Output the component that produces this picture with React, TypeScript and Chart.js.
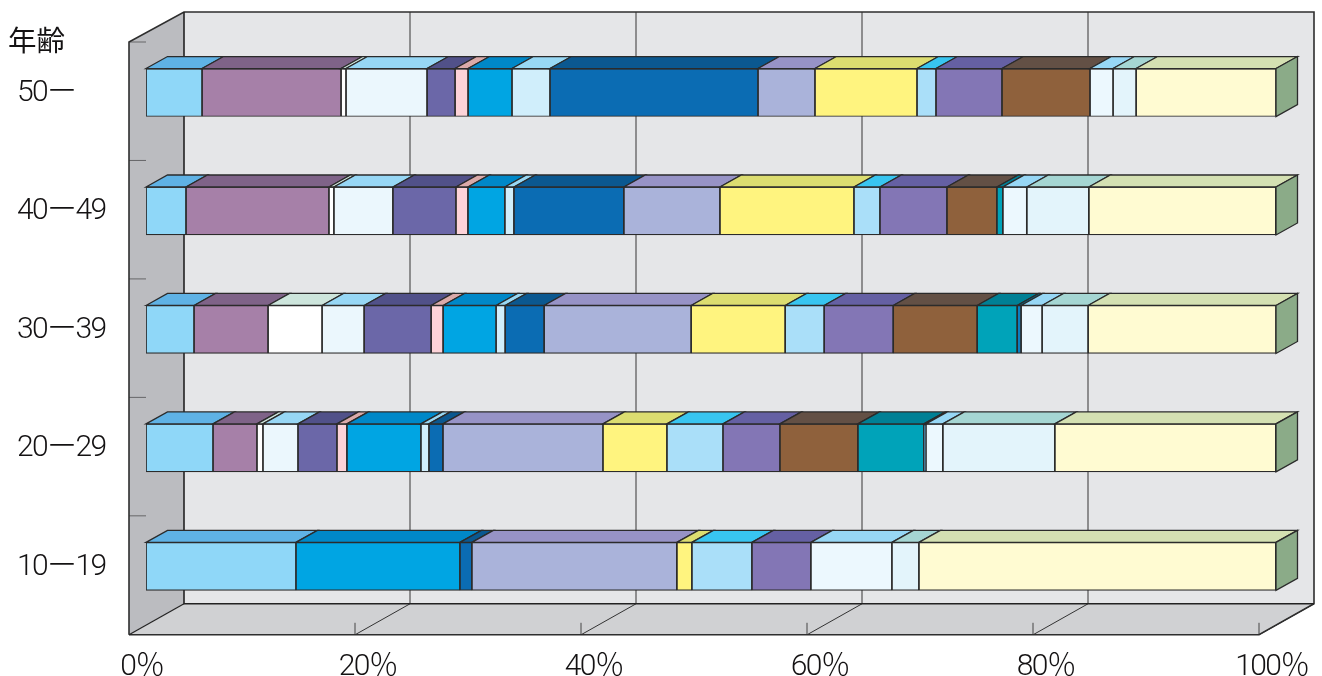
import React, { useEffect, useRef } from "react";
import { Chart, registerables } from "chart.js";

Chart.register(...registerables);

const categories = ["50ー", "40ー49", "30ー39", "20ー29", "10ー19"];
const xTicks = [0, 20, 40, 60, 80, 100];
const axisTitle = "年齢";

const s01 = [4.96, 3.54, 4.25, 5.93, 13.27];
const s02 = [12.3, 12.65, 6.55, 3.89, null];
const s03 = [0.44, 0.44, 4.78, 0.53, null];
const s04 = [7.17, 5.22, 3.72, 3.1, null];
const s05 = [2.48, 5.58, 5.93, 3.45, null];
const s06 = [1.15, 1.06, 1.06, 0.88, null];
const s07 = [3.89, 3.27, 4.69, 6.55, 14.51];
const s08 = [3.36, 0.8, 0.8, 0.71, null];
const s09 = [18.41, 9.73, 3.45, 1.24, 1.06];
const s10 = [5.04, 8.5, 13.01, 14.16, 18.14];
const s11 = [9.03, 11.86, 8.32, 5.66, 1.33];
const s12 = [1.68, 2.3, 3.45, 4.96, 5.31];
const s13 = [5.84, 5.93, 6.11, 5.04, 5.22];
const s14 = [7.79, 4.42, 7.43, 6.9, null];
const s15 = [null, 0.53, 3.54, 5.84, null];
const s16 = [null, null, 0.35, 0.18, null];
const s17 = [2.04, 2.12, 1.86, 1.5, 7.17];
const s18 = [2.04, 5.49, 4.07, 9.91, 2.39];
const s19 = [12.39, 16.55, 16.64, 19.56, 31.59];

const seriesValues = [s01, s02, s03, s04, s05, s06, s07, s08, s09, s10, s11, s12, s13, s14, s15, s16, s17, s18, s19];

const frontColors = [
  "#8fd7f8", "#a680a8", "#ffffff", "#ebf7fd", "#6b67a8", "#fdd3d8", "#00a5e3", "#d0eefb", "#0b6cb3", "#aab3da",
  "#fff47f", "#aadff9", "#8376b5", "#8f613c", "#00a3b9", "#0b7fc0", "#ecf8fe", "#e3f4fb", "#fffbd2",
];
const topColors = [
  "#5fb2e5", "#7f6388", "#cde5dc", "#97d7f5", "#515189", "#dbaaa9", "#0088c8", "#98d8f4", "#0b5890", "#9793c6",
  "#dcdd70", "#38c5f0", "#6560a3", "#635045", "#008095", "#006e90", "#97d7f5", "#a5d6d3", "#d4e0b2",
];
const sideColor = "#8bab88";
const lineColor = "#2b2b2b";
const textColor = "#141213";
const labelFont = 'Roboto, "Noto Sans CJK JP", sans-serif';

const depthPlugin = {
  id: "depth",
  beforeDraw(chart: any) {
    chart.ctx.letterSpacing = "-1.6px";
  },
  afterDraw(chart: any) {
    chart.ctx.letterSpacing = "0px";
  },
  beforeDatasetsDraw(chart: any) {
    const { ctx, scales } = chart;
    const x = scales.x;
    const y = scales.y;
    const band = (y.bottom - y.top) / categories.length;
    const frontX = x.left - 17;
    const backX = x.left + 38;
    const frontEndX = x.right - 17;
    const backEndX = x.right + 38;
    const frontTop = y.top + 8.7;
    const frontBottom = y.bottom + 9.2;
    const backTop = 12;
    const backBottom = frontBottom - 31;
    const line = (pts: number[][], color: string, w: number) => {
      ctx.beginPath();
      pts.forEach((p, i) => (i ? ctx.lineTo(p[0], p[1]) : ctx.moveTo(p[0], p[1])));
      ctx.strokeStyle = color;
      ctx.lineWidth = w;
      ctx.stroke();
    };
    const fill = (pts: number[][], color: string) => {
      ctx.beginPath();
      pts.forEach((p, i) => (i ? ctx.lineTo(p[0], p[1]) : ctx.moveTo(p[0], p[1])));
      ctx.closePath();
      ctx.fillStyle = color;
      ctx.fill();
    };
    ctx.save();
    fill([[backX, backTop], [backEndX, backTop], [backEndX, backBottom], [backX, backBottom]], "#e5e6e8");
    fill([[frontX, frontTop], [backX, backTop], [backX, backBottom], [frontX, frontBottom]], "#bbbcc0");
    fill([[frontX, frontBottom], [backX, backBottom], [backEndX, backBottom], [frontEndX, frontBottom]], "#d0d1d3");

    xTicks.forEach((t) => {
      const px = x.getPixelForValue(t);
      if (t > 0 && t < 100) line([[px + 38, backTop], [px + 38, backBottom]], "#6f6f71", 1.5);
      if (t > 0) {
        line([[px + 38, backBottom], [px - 17, frontBottom]], "#333333", 1);
        line([[px - 17, frontBottom - 12], [px - 17, frontBottom]], "#444444", 1);
      }
    });
    categories.forEach((_, i) => {
      const py = y.getPixelForValue(i) - band / 2 + 8.7;
      line([[frontX, py], [x.left, py]], "#666668", 1);
    });
    line([[frontX, frontBottom], [frontX, frontTop], [backX, backTop], [backEndX, backTop], [backEndX, backBottom], [frontEndX, frontBottom], [frontX, frontBottom]], "#2e2e2e", 1.6);
    line([[backX, backTop], [backX, backBottom], [backEndX, backBottom]], "#222222", 1.6);
    line([[backX, backBottom], [frontX, frontBottom]], "#222222", 1.2);
    ctx.restore();
  },
  afterDatasetsDraw(chart: any) {
    const { ctx, scales } = chart;
    const dx = 21.5;
    const dy = 12;
    ctx.save();
    ctx.lineWidth = 1.3;
    ctx.strokeStyle = lineColor;
    ctx.lineJoin = "miter";
    chart.data.datasets.forEach((ds: any, d: number) => {
      const meta = chart.getDatasetMeta(d);
      meta.data.forEach((bar: any, i: number) => {
        if (ds.data[i] == null) return;
        const h = bar.height;
        const top = bar.y - h / 2;
        const l = bar.base;
        const r = bar.x;
        ctx.beginPath();
        ctx.moveTo(l, top);
        ctx.lineTo(l + dx, top - dy);
        ctx.lineTo(r + dx, top - dy);
        ctx.lineTo(r, top);
        ctx.closePath();
        ctx.fillStyle = topColors[d];
        ctx.fill();
        ctx.stroke();
      });
    });
    categories.forEach((_, i) => {
      const cy = scales.y.getPixelForValue(i);
      const h = chart.getDatasetMeta(0).data[i].height;
      const r = scales.x.right;
      ctx.beginPath();
      ctx.moveTo(r, cy - h / 2);
      ctx.lineTo(r + dx, cy - h / 2 - dy);
      ctx.lineTo(r + dx, cy + h / 2 - dy);
      ctx.lineTo(r, cy + h / 2);
      ctx.closePath();
      ctx.fillStyle = sideColor;
      ctx.fill();
      ctx.stroke();
    });
    ctx.fillStyle = textColor;
    ctx.letterSpacing = "0px";
    ctx.font = '400 28.5px "Noto Sans CJK JP", sans-serif';
    ctx.textAlign = "left";
    ctx.textBaseline = "middle";
    ctx.fillText(axisTitle, 8, 40);
    ctx.restore();
  },
};

export default function App() {
  const ref = useRef<HTMLCanvasElement>(null);
  useEffect(() => {
    const chart = new Chart(ref.current as HTMLCanvasElement, {
      type: "bar",
      data: {
        labels: categories,
        datasets: seriesValues.map((values, i) => ({
          label: `s${i + 1}`,
          data: values,
          backgroundColor: frontColors[i],
          borderColor: lineColor,
          borderWidth: 1.2,
          borderSkipped: false,
          barThickness: 48,
        })),
      },
      options: {
        indexAxis: "y",
        responsive: false,
        animation: false,
        layout: { autoPadding: false, padding: { left: 17, right: 46, top: 33.3, bottom: 0 } },
        plugins: { legend: { display: false }, tooltip: { enabled: false }, title: { display: false } },
        scales: {
          x: {
            type: "linear",
            stacked: true,
            min: 0,
            max: 100,
            grid: { display: false },
            border: { display: false },
            afterFit: (s: any) => {
              s.height = 50.4;
              s.paddingLeft = 0;
              s.paddingRight = 0;
            },
            ticks: {
              stepSize: 20,
              autoSkip: false,
              maxRotation: 0,
              labelOffset: -4,
              padding: 16,
              color: textColor,
              font: { family: labelFont, size: 30, weight: "300" },
              callback: (v: any) => `${v}％`,
            },
          },
          y: {
            type: "category",
            stacked: true,
            grid: { display: false },
            border: { display: false },
            afterFit: (s: any) => {
              s.width = 129;
              s.paddingTop = 0;
              s.paddingBottom = 0;
            },
            ticks: {
              crossAlign: "far",
              labelOffset: 1,
              color: textColor,
              font: { family: labelFont, size: 30, weight: "300" },
            },
          },
        },
      } as any,
      plugins: [depthPlugin],
    });
    return () => chart.destroy();
  }, []);
  return (
    <div style={{ position: "absolute", left: 0, top: 0, width: 1322, height: 676, background: "#fff" }}>
      <canvas ref={ref} width={1322} height={676} style={{ display: "block" }} />
    </div>
  );
}
